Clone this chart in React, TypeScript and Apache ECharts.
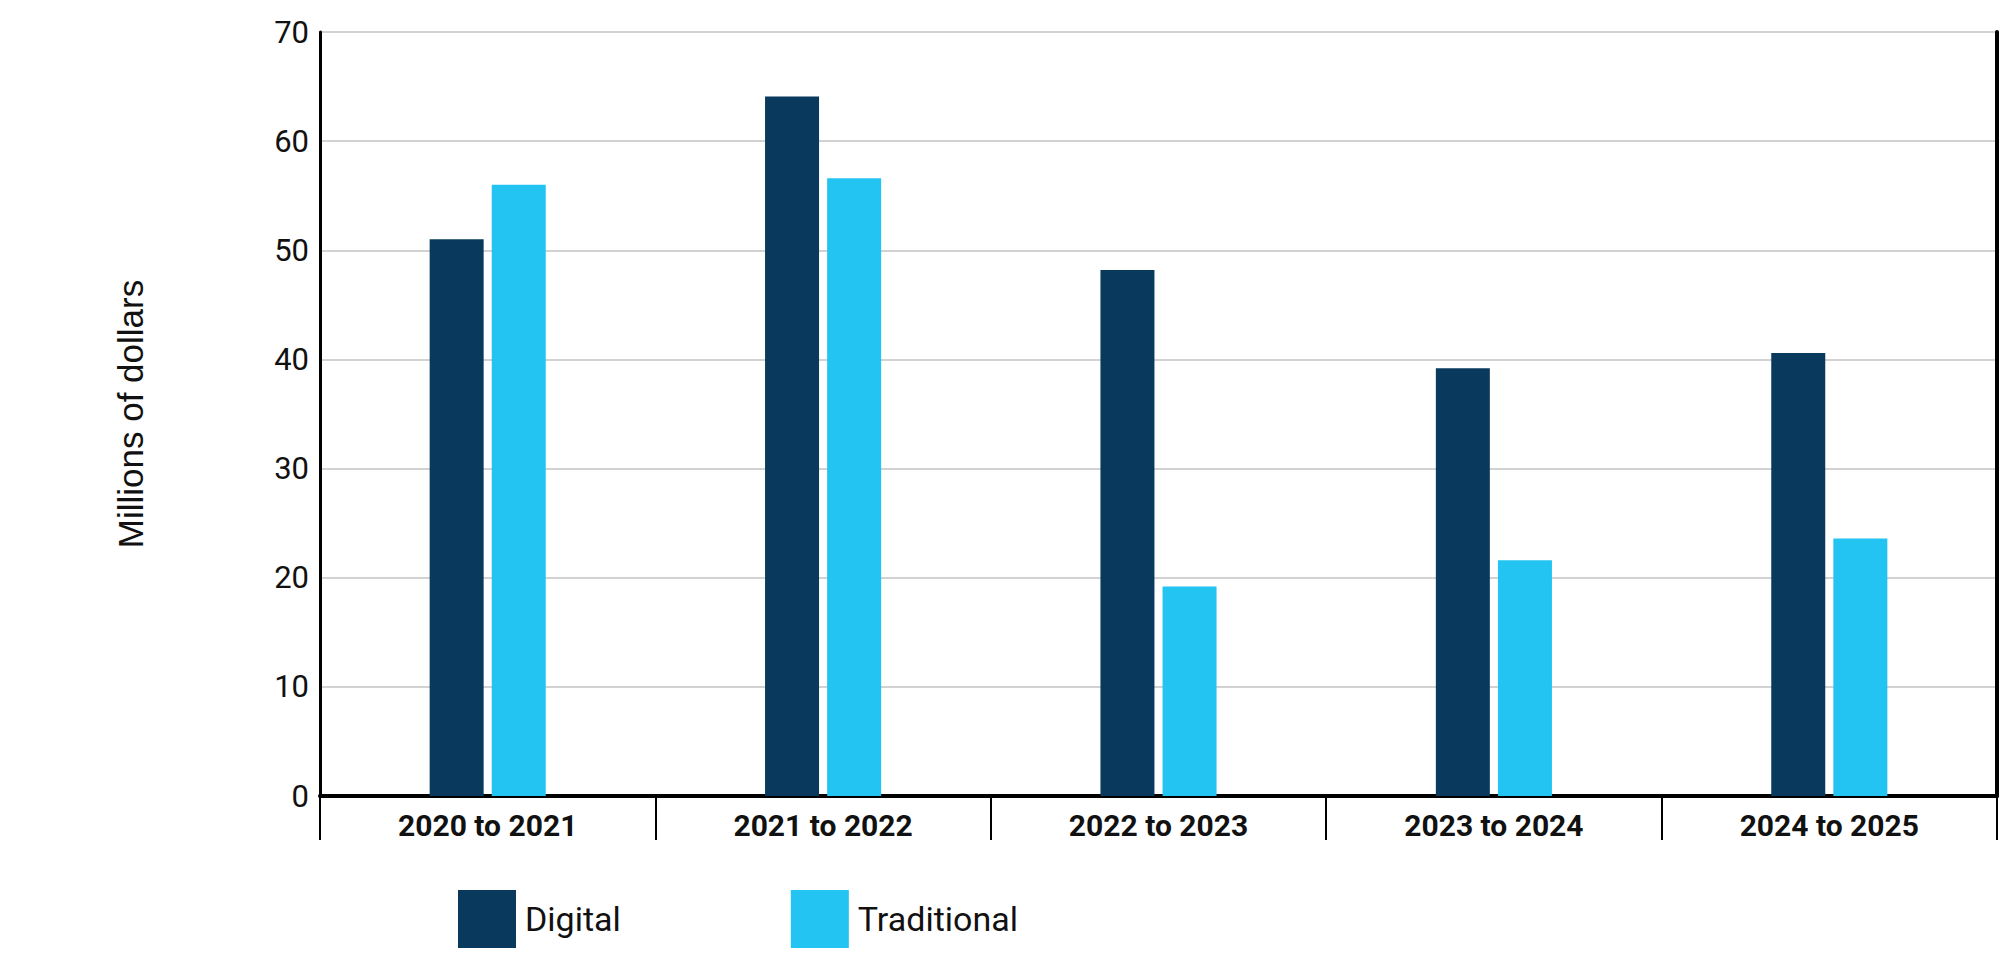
import React, { useEffect, useRef } from "react";
import * as echarts from "echarts";

const categories = ["2020 to 2021", "2021 to 2022", "2022 to 2023", "2023 to 2024", "2024 to 2025"];
const digitalValues = [51.0, 64.1, 48.2, 39.2, 40.6];
const traditionalValues = [56.0, 56.6, 19.2, 21.6, 23.6];
const seriesNames = ["Digital", "Traditional"];
const yMin = 0;
const yMax = 70;
const yStep = 10;

const DARK = "#093a5d";
const LIGHT = "#23c4f1";
const NARROW = "Roboto, 'DejaVu Sans Condensed', sans-serif";
const REGULAR = "'Liberation Sans', Arial, sans-serif";

export default function App() {
    const containerRef = useRef<HTMLDivElement | null>(null);

    useEffect(() => {
        document.body.style.margin = "0";
        if (!containerRef.current) return;
        const inst = echarts.init(containerRef.current, undefined, { renderer: "svg" });

        const option: echarts.EChartsOption = {
            animation: false,
            backgroundColor: "#ffffff",
            grid: { left: 320, right: 3, top: 32, bottom: 169, containLabel: false },
            legend: {
                left: 453,
                top: 885,
                itemWidth: 58,
                itemHeight: 58,
                itemGap: 170,
                icon: "rect",
                data: seriesNames,
                textStyle: { fontFamily: NARROW, fontSize: 34, color: "#111", padding: [0, 0, 0, 4] },
            },
            xAxis: {
                type: "category",
                data: categories,
                boundaryGap: true,
                axisLine: { show: true, lineStyle: { color: "#000", width: 4 } },
                axisTick: { show: true, length: 44, interval: 0, lineStyle: { color: "#000", width: 2 } },
                axisLabel: {
                    interval: 0,
                    margin: 14,
                    fontFamily: NARROW,
                    fontWeight: "bold",
                    fontSize: 30,
                    color: "#111",
                },
                splitLine: { show: false },
            },
            yAxis: [
                {
                    type: "value",
                    min: yMin,
                    max: yMax,
                    interval: yStep,
                    name: "Millions of dollars",
                    nameLocation: "middle",
                    nameRotate: 90,
                    nameGap: 172,
                    nameTextStyle: { fontFamily: REGULAR, fontSize: 35, color: "#111" },
                    axisLine: { show: true, lineStyle: { color: "#000", width: 3 } },
                    axisTick: { show: false },
                    axisLabel: { margin: 11, fontFamily: NARROW, fontSize: 31, color: "#111" },
                    splitLine: { show: true, lineStyle: { color: "#d2d2d2", width: 2 } },
                },
                {
                    type: "value",
                    position: "right",
                    min: yMin,
                    max: yMax,
                    interval: yStep,
                    axisLine: { show: true, lineStyle: { color: "#000", width: 4 } },
                    axisTick: { show: false },
                    axisLabel: { show: false },
                    splitLine: { show: false },
                },
            ],
            series: [
                {
                    name: seriesNames[0],
                    type: "bar",
                    data: digitalValues,
                    barWidth: 54,
                    barGap: "15%",
                    itemStyle: { color: DARK },
                },
                {
                    name: seriesNames[1],
                    type: "bar",
                    data: traditionalValues,
                    barWidth: 54,
                    barGap: "15%",
                    itemStyle: { color: LIGHT },
                },
            ],
        };

        inst.setOption(option);
        return () => {
            inst.dispose();
        };
    }, []);

    return <div ref={containerRef} style={{ width: 2000, height: 965 }} />;
}
